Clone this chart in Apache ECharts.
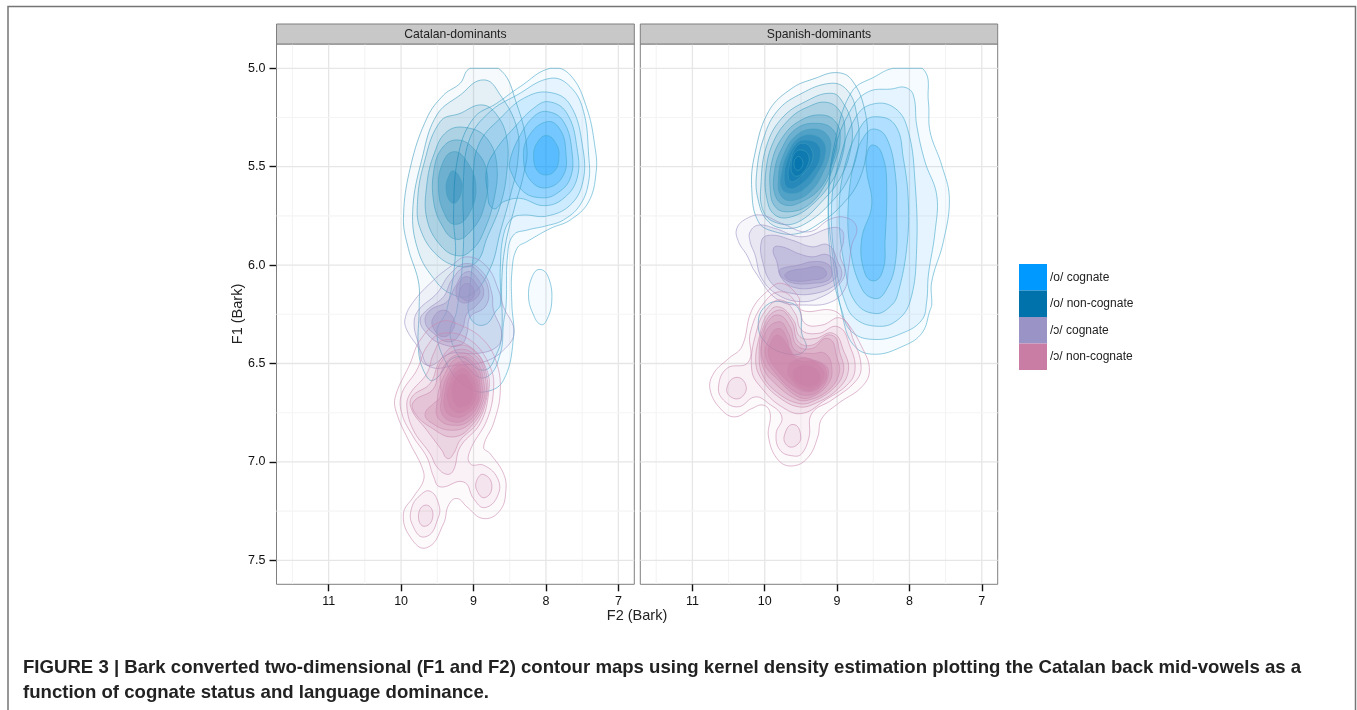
<!DOCTYPE html>
<html><head><meta charset="utf-8">
<script src="https://cdn.jsdelivr.net/npm/echarts@6/dist/echarts.min.js"></script>
<style>html,body{margin:0;padding:0;background:#fff}#c{width:1357px;height:710px}</style>
</head><body><div id="c"></div>
<script>
const panelNames=['Catalan-dominants','Spanish-dominants'];
const groupNames=['/o/ cognate','/o/ non-cognate','/ɔ/ cognate','/ɔ/ non-cognate'];
const xMajor=[7,8,9,10,11];
const xMinor=[7.5,8.5,9.5,10.5,11.5];
const yMajor=[5,5.5,6,6.5,7,7.5];
const yMinor=[5.25,5.75,6.25,6.75,7.25];

// each ring: [density level, [[F2,F1],...]]
const catOCog=[
[1,[[7.94,5],[7.665,5.034],[7.435,5.203],[7.32,5.407],[7.306,5.525],[7.41,5.678],[7.665,5.771],[7.94,5.814],[8.263,5.881],[8.4,5.915],[8.47,6.034],[8.47,6.203],[8.447,6.364],[8.586,6.585],[8.84,6.644],[9.09,6.619],[9.32,6.534],[9.506,6.347],[9.37,6.229],[9.25,5.949],[9.276,5.746],[9.21,5.441],[9,5.254],[8.68,5.178],[8.355,5.093]]],
[1,[[8.08,6.022],[7.96,6.068],[7.92,6.186],[7.99,6.28],[8.07,6.302],[8.17,6.254],[8.24,6.161],[8.19,6.059]]],
[2,[[7.94,5.051],[7.665,5.093],[7.48,5.22],[7.41,5.441],[7.41,5.576],[7.53,5.695],[7.76,5.771],[7.99,5.8],[8.26,5.822],[8.45,5.848],[8.53,5.949],[8.55,6.203],[8.586,6.297],[8.63,6.449],[8.816,6.568],[9.046,6.534],[9.32,6.364],[9.23,6.229],[9.14,5.915],[9.14,5.576],[9.05,5.356],[8.77,5.22],[8.4,5.136]]],
[3,[[7.96,5.122],[7.665,5.186],[7.49,5.407],[7.49,5.576],[7.665,5.695],[7.99,5.751],[8.31,5.746],[8.47,5.763],[8.586,5.848],[8.63,6.017],[8.63,6.203],[8.68,6.229],[8.86,6.305],[9.05,6.263],[9.05,6.127],[9,5.915],[9,5.525],[8.91,5.373],[8.63,5.254],[8.31,5.153]]],
[4,[[7.96,5.17],[7.71,5.229],[7.57,5.407],[7.57,5.559],[7.757,5.661],[8.03,5.698],[8.355,5.661],[8.586,5.678],[8.733,5.712],[8.807,5.627],[8.816,5.508],[8.678,5.407],[8.447,5.305],[8.17,5.203]]],
[5,[[7.98,5.22],[7.757,5.271],[7.64,5.424],[7.665,5.559],[7.85,5.636],[8.056,5.658],[8.31,5.627],[8.484,5.525],[8.5,5.475],[8.378,5.356],[8.17,5.246]]],
[6,[[7.98,5.271],[7.8,5.314],[7.725,5.424],[7.757,5.542],[7.987,5.607],[8.217,5.568],[8.31,5.458],[8.24,5.347]]],
[7,[[7.987,5.342],[7.85,5.39],[7.82,5.449],[7.87,5.517],[8,5.542],[8.125,5.517],[8.17,5.449],[8.125,5.381]]]
];
const catONon=[
[1,[[9.046,5],[8.655,5],[8.4,5.186],[8.263,5.407],[8.31,5.542],[8.424,5.695],[8.56,5.898],[8.61,6.085],[8.61,6.347],[8.678,6.449],[8.86,6.534],[9.23,6.466],[9.55,6.585],[9.67,6.551],[9.76,6.432],[9.75,6.212],[9.76,6.085],[9.9,5.915],[9.967,5.763],[9.875,5.508],[9.645,5.254],[9.414,5.136],[9.184,5.076]]],
[2,[[8.86,5.059],[8.63,5.136],[8.4,5.305],[8.39,5.475],[8.49,5.644],[8.63,5.831],[8.77,6.017],[9.046,6.153],[9.32,6.144],[9.55,6.068],[9.76,5.932],[9.84,5.729],[9.71,5.458],[9.506,5.237],[9.184,5.136]]],
[3,[[8.885,5.186],[8.678,5.237],[8.54,5.356],[8.54,5.525],[8.63,5.695],[8.816,5.864],[8.954,5.983],[9.184,6.008],[9.506,5.949],[9.737,5.814],[9.773,5.678],[9.69,5.492],[9.46,5.271],[9.184,5.229]]],
[4,[[9.09,5.302],[8.816,5.356],[8.678,5.492],[8.724,5.678],[8.86,5.831],[9,5.915],[9.207,5.953],[9.46,5.898],[9.645,5.763],[9.645,5.593],[9.55,5.441],[9.368,5.322]]],
[5,[[9.23,5.364],[9,5.407],[8.816,5.525],[8.86,5.712],[9.046,5.831],[9.25,5.868],[9.437,5.797],[9.55,5.678],[9.55,5.525],[9.437,5.407]]],
[6,[[9.276,5.424],[9.09,5.475],[8.968,5.593],[9.046,5.729],[9.253,5.793],[9.414,5.729],[9.483,5.61],[9.437,5.492]]],
[7,[[9.276,5.522],[9.175,5.568],[9.16,5.61],[9.23,5.678],[9.32,5.678],[9.378,5.61],[9.345,5.551]]]
];
const catACog=[
[1,[[9.09,5.958],[8.816,6.008],[8.655,6.127],[8.586,6.212],[8.44,6.339],[8.586,6.432],[8.86,6.492],[9.23,6.508],[9.6,6.517],[9.737,6.432],[9.92,6.33],[9.944,6.271],[9.83,6.186],[9.55,6.076],[9.32,6.008]]],
[2,[[9.09,5.992],[8.86,6.043],[8.747,6.144],[8.724,6.229],[8.61,6.347],[8.678,6.415],[8.954,6.449],[9.32,6.449],[9.645,6.508],[9.76,6.398],[9.82,6.297],[9.76,6.229],[9.506,6.144],[9.32,6.043]]],
[3,[[9.09,6.005],[8.908,6.043],[8.793,6.127],[8.84,6.212],[9.046,6.263],[9.09,6.347],[9.184,6.407],[9.46,6.398],[9.645,6.347],[9.737,6.28],[9.645,6.229],[9.414,6.161],[9.3,6.076]]],
[4,[[9.09,6.034],[8.93,6.076],[8.86,6.144],[8.954,6.203],[9.09,6.246],[9.16,6.33],[9.32,6.39],[9.55,6.347],[9.667,6.288],[9.6,6.229],[9.368,6.186],[9.253,6.11]]],
[5,[[9.09,6.059],[8.954,6.102],[8.917,6.144],[9.046,6.186],[9.184,6.186],[9.24,6.144],[9.207,6.093]]],
[5,[[9.414,6.229],[9.276,6.271],[9.276,6.322],[9.414,6.364],[9.55,6.322],[9.56,6.271]]],
[6,[[9.09,6.093],[8.99,6.136],[9.046,6.178],[9.16,6.169],[9.193,6.136]]]
];
const catANon=[
[1,[[9.46,6.288],[9.184,6.305],[8.86,6.381],[8.678,6.5],[8.632,6.653],[8.724,6.805],[8.86,6.924],[8.77,6.958],[8.586,7.059],[8.553,7.144],[8.632,7.246],[8.86,7.288],[9.09,7.229],[9.23,7.186],[9.345,7.22],[9.414,7.314],[9.645,7.436],[9.875,7.381],[9.967,7.263],[9.83,7.178],[9.69,7.093],[9.714,7.025],[9.875,6.907],[10.06,6.754],[10.08,6.67],[9.875,6.5],[9.737,6.381]]],
[2,[[9.437,6.347],[9.046,6.381],[8.77,6.517],[8.724,6.636],[8.816,6.788],[9.046,6.941],[9.046,7.009],[8.86,7.017],[8.678,7.076],[8.655,7.161],[8.84,7.232],[9,7.186],[9.138,7.102],[9.46,7.127],[9.55,7.076],[9.645,6.975],[9.83,6.873],[9.99,6.754],[9.99,6.653],[9.783,6.534],[9.645,6.415]]],
[2,[[9.6,7.149],[9.483,7.212],[9.483,7.28],[9.667,7.381],[9.85,7.314],[9.85,7.229],[9.737,7.17]]],
[3,[[9.414,6.381],[9.046,6.415],[8.816,6.534],[8.793,6.653],[8.908,6.805],[9.184,6.924],[9.276,7.042],[9.368,7.063],[9.506,7.025],[9.6,6.958],[9.83,6.839],[9.92,6.72],[9.875,6.653],[9.645,6.551],[9.55,6.449]]],
[3,[[8.86,7.064],[8.747,7.119],[8.84,7.181],[8.954,7.144],[8.954,7.093]]],
[3,[[9.667,7.22],[9.56,7.266],[9.667,7.327],[9.76,7.28]]],
[4,[[9.23,6.407],[8.954,6.449],[8.816,6.568],[8.825,6.686],[8.954,6.805],[9.184,6.89],[9.276,6.958],[9.355,6.983],[9.437,6.941],[9.645,6.839],[9.85,6.737],[9.85,6.67],[9.6,6.602],[9.46,6.483]]],
[5,[[9.207,6.429],[8.954,6.466],[8.84,6.568],[8.84,6.686],[9,6.805],[9.276,6.873],[9.6,6.822],[9.806,6.754],[9.83,6.695],[9.55,6.627],[9.46,6.5]]],
[6,[[9.184,6.449],[8.954,6.492],[8.86,6.593],[8.86,6.686],[9.046,6.805],[9.32,6.839],[9.6,6.797],[9.667,6.754],[9.55,6.703],[9.46,6.67],[9.437,6.534]]],
[7,[[9.184,6.466],[8.954,6.517],[8.885,6.602],[8.885,6.686],[9.046,6.788],[9.276,6.814],[9.483,6.78],[9.506,6.703],[9.414,6.568]]],
[8,[[9.184,6.492],[8.977,6.534],[8.908,6.619],[8.93,6.703],[9.09,6.78],[9.276,6.797],[9.437,6.754],[9.437,6.67],[9.368,6.568]]],
[9,[[9.175,6.508],[9,6.551],[8.93,6.627],[8.954,6.703],[9.115,6.763],[9.267,6.771],[9.39,6.737],[9.39,6.636],[9.32,6.559]]],
[10,[[9.17,6.525],[9.023,6.568],[8.963,6.636],[9,6.703],[9.138,6.746],[9.253,6.746],[9.345,6.703],[9.345,6.619]]],
[11,[[9.16,6.551],[9.046,6.585],[9,6.644],[9.046,6.703],[9.16,6.724],[9.253,6.712],[9.3,6.653],[9.276,6.593]]]
];
const spaOCog=[
[1,[[8.222,5],[7.821,5],[7.738,5.17],[7.715,5.322],[7.554,5.492],[7.448,5.661],[7.531,5.881],[7.692,6.085],[7.692,6.203],[7.715,6.229],[7.831,6.347],[8.107,6.415],[8.475,6.453],[8.751,6.415],[8.913,6.28],[9.074,5.915],[9.12,5.644],[9.028,5.373],[8.797,5.119],[8.475,5.042]]],
[2,[[8.061,5.097],[7.946,5.136],[7.9,5.288],[7.785,5.475],[7.623,5.644],[7.646,5.831],[7.738,6.051],[7.762,6.186],[7.831,6.28],[8.107,6.347],[8.475,6.378],[8.797,6.339],[8.936,6.229],[9.074,6.017],[9.12,5.678],[9.028,5.407],[8.797,5.203],[8.567,5.119],[8.245,5.105]]],
[3,[[8.521,5.183],[8.199,5.203],[8.015,5.322],[7.923,5.576],[7.9,5.915],[7.992,6.186],[8.199,6.288],[8.475,6.31],[8.751,6.271],[8.89,6.186],[9.028,5.983],[9.074,5.678],[8.959,5.458],[8.751,5.254]]],
[4,[[8.475,5.246],[8.199,5.288],[8.084,5.458],[8.015,5.678],[8.038,5.915],[8.153,6.136],[8.245,6.203],[8.475,6.246],[8.751,6.186],[8.89,6.017],[8.972,5.746],[8.89,5.492],[8.659,5.288]]],
[5,[[8.475,5.309],[8.314,5.356],[8.199,5.525],[8.176,5.746],[8.199,6],[8.337,6.136],[8.475,6.17],[8.659,6.119],[8.82,5.915],[8.843,5.678],[8.751,5.458],[8.613,5.339]]],
[6,[[8.498,5.39],[8.36,5.458],[8.314,5.61],[8.337,5.881],[8.36,6.017],[8.498,6.08],[8.636,6.017],[8.659,5.864],[8.521,5.695],[8.59,5.525],[8.59,5.441]]]
];
const spaONon=[
[1,[[9.005,5.022],[8.797,5.059],[8.613,5.22],[8.59,5.407],[8.705,5.576],[8.936,5.695],[9.212,5.78],[9.534,5.839],[9.856,5.831],[10.087,5.78],[10.18,5.61],[10.14,5.441],[9.948,5.22],[9.626,5.102],[9.304,5.051]]],
[1,[[9.764,6.186],[9.534,6.22],[9.488,6.347],[9.442,6.432],[9.718,6.449],[10.017,6.381],[10.087,6.28],[9.971,6.203]]],
[2,[[9.074,5.076],[8.843,5.119],[8.728,5.237],[8.705,5.39],[8.843,5.559],[9.074,5.678],[9.396,5.78],[9.672,5.814],[9.948,5.78],[10.096,5.661],[10.11,5.525],[10.017,5.356],[9.833,5.22],[9.534,5.136]]],
[3,[[9.074,5.127],[8.913,5.178],[8.797,5.288],[8.82,5.424],[8.959,5.559],[9.212,5.678],[9.534,5.78],[9.81,5.788],[10.017,5.729],[10.05,5.576],[9.971,5.39],[9.764,5.254],[9.442,5.17]]],
[4,[[9.143,5.173],[8.959,5.22],[8.89,5.322],[8.936,5.458],[9.074,5.576],[9.35,5.695],[9.626,5.754],[9.856,5.746],[9.971,5.661],[9.985,5.525],[9.879,5.373],[9.649,5.254],[9.396,5.195]]],
[5,[[9.212,5.237],[9.005,5.28],[8.959,5.373],[9.028,5.475],[9.166,5.593],[9.396,5.695],[9.672,5.729],[9.856,5.703],[9.925,5.61],[9.902,5.475],[9.764,5.356],[9.534,5.271]]],
[6,[[9.258,5.28],[9.051,5.314],[9.005,5.39],[9.074,5.492],[9.235,5.61],[9.488,5.678],[9.718,5.695],[9.856,5.644],[9.866,5.525],[9.764,5.407],[9.557,5.305]]],
[7,[[9.304,5.309],[9.12,5.347],[9.097,5.424],[9.189,5.525],[9.35,5.619],[9.58,5.669],[9.764,5.653],[9.81,5.559],[9.741,5.441],[9.557,5.339]]],
[8,[[9.35,5.339],[9.189,5.373],[9.166,5.441],[9.258,5.525],[9.442,5.61],[9.626,5.636],[9.764,5.61],[9.764,5.525],[9.672,5.424],[9.534,5.356]]],
[9,[[9.419,5.364],[9.258,5.39],[9.235,5.458],[9.327,5.525],[9.511,5.593],[9.672,5.61],[9.732,5.559],[9.681,5.458],[9.557,5.381]]],
[10,[[9.465,5.381],[9.35,5.415],[9.35,5.475],[9.442,5.525],[9.603,5.576],[9.672,5.559],[9.649,5.475],[9.58,5.407]]],
[11,[[9.497,5.415],[9.396,5.441],[9.405,5.492],[9.511,5.542],[9.603,5.542],[9.635,5.492],[9.589,5.432]]],
[12,[[9.525,5.449],[9.474,5.475],[9.497,5.508],[9.557,5.517],[9.594,5.492],[9.58,5.461]]]
];
const spaACog=[
[1,[[10.386,5.814],[10.248,5.763],[10.041,5.746],[9.764,5.788],[9.396,5.831],[9.074,5.763],[8.843,5.763],[8.728,5.814],[8.797,5.898],[8.843,6.017],[8.89,6.119],[9.074,6.186],[9.396,6.203],[9.81,6.178],[10.133,6.034],[10.248,5.949],[10.363,5.881]]],
[2,[[10.202,5.831],[10.087,5.797],[9.856,5.814],[9.488,5.856],[9.074,5.81],[8.936,5.822],[8.913,5.881],[8.959,5.949],[8.89,6.034],[8.982,6.102],[9.212,6.161],[9.488,6.186],[9.81,6.153],[10.041,6.068],[10.133,5.949],[10.202,5.881]]],
[3,[[10.041,5.873],[9.902,5.848],[9.626,5.873],[9.35,5.907],[9.12,5.898],[8.991,5.983],[8.936,6.051],[9.028,6.102],[9.304,6.144],[9.626,6.144],[9.879,6.102],[10.017,6]]],
[4,[[9.879,5.915],[9.764,5.907],[9.534,5.941],[9.35,5.958],[9.12,5.949],[9.005,6.017],[9.028,6.068],[9.258,6.11],[9.58,6.115],[9.764,6.068],[9.833,5.983]]],
[5,[[9.764,6.017],[9.534,6],[9.35,5.983],[9.143,5.992],[9.074,6.034],[9.12,6.076],[9.35,6.093],[9.58,6.093],[9.741,6.068],[9.801,6.034]]],
[6,[[9.672,6.034],[9.442,6.017],[9.281,6.008],[9.166,6.025],[9.166,6.059],[9.35,6.076],[9.58,6.081],[9.718,6.059]]]
];
const spaANon=[
[1,[[9.764,6.093],[9.534,6.161],[9.488,6.229],[9.074,6.229],[8.89,6.28],[8.659,6.415],[8.553,6.534],[8.659,6.619],[8.982,6.703],[9.212,6.78],[9.267,6.873],[9.396,6.975],[9.603,7.02],[9.81,6.992],[9.948,6.873],[9.925,6.754],[10.017,6.712],[10.179,6.729],[10.409,6.771],[10.593,6.737],[10.754,6.636],[10.708,6.551],[10.501,6.475],[10.317,6.415],[10.179,6.229],[9.948,6.127]]],
[2,[[9.764,6.136],[9.534,6.212],[9.442,6.297],[9.212,6.305],[8.936,6.271],[8.774,6.381],[8.668,6.517],[8.751,6.593],[9.074,6.686],[9.35,6.754],[9.387,6.873],[9.488,6.958],[9.603,6.97],[9.787,6.941],[9.843,6.856],[9.764,6.771],[9.948,6.703],[10.133,6.67],[10.363,6.72],[10.57,6.686],[10.639,6.619],[10.524,6.525],[10.225,6.492],[10.202,6.347],[10.017,6.195]]],
[3,[[9.764,6.178],[9.58,6.246],[9.488,6.331],[9.258,6.347],[8.982,6.314],[8.82,6.415],[8.751,6.525],[8.843,6.602],[9.166,6.686],[9.488,6.754],[9.764,6.72],[10.017,6.636],[10.179,6.534],[10.11,6.331],[9.948,6.212]]],
[3,[[10.4,6.571],[10.261,6.61],[10.317,6.67],[10.455,6.673],[10.524,6.627]]],
[3,[[9.603,6.81],[9.502,6.873],[9.58,6.92],[9.695,6.915],[9.727,6.864]]],
[4,[[9.81,6.212],[9.603,6.28],[9.511,6.364],[9.304,6.373],[9.051,6.347],[8.913,6.432],[8.843,6.534],[8.982,6.627],[9.304,6.703],[9.534,6.72],[9.81,6.67],[10.017,6.593],[10.123,6.5],[10.064,6.347],[9.971,6.254]]],
[5,[[9.81,6.229],[9.626,6.288],[9.534,6.39],[9.35,6.407],[9.074,6.356],[8.959,6.449],[8.913,6.542],[9.051,6.627],[9.35,6.695],[9.534,6.703],[9.81,6.653],[10.017,6.568],[10.077,6.466],[10.017,6.314]]],
[6,[[9.81,6.254],[9.649,6.314],[9.557,6.407],[9.35,6.424],[9.12,6.373],[9.005,6.466],[8.972,6.551],[9.12,6.636],[9.396,6.686],[9.58,6.678],[9.856,6.602],[10.017,6.525],[10.05,6.415],[9.971,6.297]]],
[7,[[9.81,6.288],[9.672,6.347],[9.58,6.432],[9.35,6.449],[9.166,6.449],[9.074,6.517],[9.12,6.602],[9.35,6.67],[9.534,6.67],[9.81,6.585],[10.017,6.492],[10.017,6.364]]],
[8,[[9.81,6.322],[9.695,6.373],[9.626,6.449],[9.396,6.475],[9.166,6.508],[9.12,6.551],[9.212,6.627],[9.396,6.661],[9.58,6.644],[9.81,6.568],[9.985,6.466],[9.948,6.381]]],
[9,[[9.81,6.356],[9.672,6.415],[9.534,6.483],[9.258,6.492],[9.143,6.551],[9.235,6.619],[9.396,6.644],[9.58,6.619],[9.81,6.542],[9.948,6.458],[9.902,6.381]]],
[10,[[9.626,6.492],[9.396,6.475],[9.212,6.525],[9.189,6.576],[9.304,6.627],[9.442,6.636],[9.626,6.585],[9.681,6.534]]],
[11,[[9.58,6.525],[9.396,6.508],[9.258,6.542],[9.235,6.585],[9.35,6.619],[9.488,6.61],[9.603,6.576]]]
];

const fillColors=['#0099ff','#0072ab','#9a94c6','#c97ca4'];
const lineColors=['#45aacb','#3f9dbf','#9a8fc2','#c98aae'];
const levelAlpha=[0.034,0.036,0.08,0.036];
const FONT='"Liberation Sans",Arial,sans-serif';
const xRange=[6.78,11.72], yRange=[4.8765,7.622];
const panelGrids=[{left:276.5,top:44,width:357.8,height:540.3},{left:640.3,top:44,width:357.4,height:540.3}];

// closed smooth outline through the read contour points (drawing only)
function outline(P,topY){
  const n=P.length,out=[];
  const tan=(a,b,len)=>{const dx=b[0]-a[0],dy=b[1]-a[1],d=Math.hypot(dx,dy)||1;return [dx/d*len*0.39,dy/d*len*0.39];};
  for(let i=0;i<n;i++){
    const p0=P[(i-1+n)%n],p1=P[i],p2=P[(i+1)%n],p3=P[(i+2)%n];
    const len=Math.hypot(p2[0]-p1[0],p2[1]-p1[1]);
    const t1=tan(p0,p2,len),t2=tan(p1,p3,len);
    const c1=[p1[0]+t1[0],p1[1]+t1[1]],c2=[p2[0]-t2[0],p2[1]-t2[1]];
    for(let k=0;k<10;k++){
      const t=k/10,u=1-t;
      const x=u*u*u*p1[0]+3*u*u*t*c1[0]+3*u*t*t*c2[0]+t*t*t*p2[0];
      const y=u*u*u*p1[1]+3*u*u*t*c1[1]+3*u*t*t*c2[1]+t*t*t*p2[1];
      out.push([x,Math.max(y,topY)]);
    }
  }
  return out;
}
function gridSeries(idx){
  const items=[...xMajor.map(v=>[v,0,1]),...xMinor.map(v=>[v,0,0]),...yMajor.map(v=>[0,v,1]),...yMinor.map(v=>[0,v,0])];
  return {type:'custom',silent:true,xAxisIndex:idx,yAxisIndex:idx,z:1,data:items,encode:{x:0,y:1},clip:true,
    renderItem(p,api){
      const it=items[p.dataIndex];
      const a=it[0]?api.coord([it[0],yRange[0]]):api.coord([xRange[0],it[1]]);
      const b=it[0]?api.coord([it[0],yRange[1]]):api.coord([xRange[1],it[1]]);
      return {type:'line',shape:{x1:a[0],y1:a[1],x2:b[0],y2:b[1]},
        style:{stroke:it[2]?'#e6e6e6':'#f4f4f4',lineWidth:it[2]?1.3:1.1}};
    }};
}
function ringSeries(g,idx,rings){
  return {type:'custom',name:groupNames[g],silent:true,xAxisIndex:idx,yAxisIndex:idx,z:2+g,
    itemStyle:{color:fillColors[g]},clip:true,
    data:rings.map(r=>r[1][0]),encode:{x:0,y:1},
    renderItem(p,api){
      const r=rings[p.dataIndex];
      const topY=api.coord([8,5])[1];
      return {type:'polygon',shape:{points:outline(r[1].map(q=>api.coord(q)),topY)},
        style:{fill:fillColors[g],fillOpacity:Math.min(0.9,r[0]*levelAlpha[g]),stroke:lineColors[g],lineWidth:0.8,strokeOpacity:0.75}};
    }};
}
function xAxis(i){return {type:'value',gridIndex:i,inverse:true,min:xRange[0],max:xRange[1],
  axisLine:{show:false},splitLine:{show:false},
  axisTick:{show:true,length:7,lineStyle:{color:'#111',width:1.4},customValues:xMajor},
  axisLabel:{color:'#111',fontSize:12.5,fontFamily:FONT,margin:10.5,customValues:xMajor,formatter:v=>String(v)}};}
function yAxis(i){return {type:'value',gridIndex:i,inverse:true,min:yRange[0],max:yRange[1],
  axisLine:{show:false},splitLine:{show:false},
  axisTick:{show:i===0,length:7,lineStyle:{color:'#111',width:1.4},customValues:yMajor},
  axisLabel:{show:i===0,color:'#111',fontSize:12.5,fontFamily:FONT,margin:11,customValues:yMajor,formatter:v=>v.toFixed(1)}};}
function strip(i){const g=panelGrids[i];
  return {type:'rect',shape:{x:g.left,y:24,width:g.width,height:20},style:{fill:'#c8c8c8',stroke:'#7f7f7f',lineWidth:1},z:5};}
function stripText(i){const g=panelGrids[i];
  return {type:'text',x:g.left+g.width/2,y:34.5,z:6,style:{text:panelNames[i],font:'12.2px '+FONT,fill:'#222',align:'center',verticalAlign:'middle'}};}
const chart=echarts.init(document.getElementById('c'),null,{renderer:'canvas'});
chart.setOption({
  animation:false,backgroundColor:'#fff',textStyle:{fontFamily:FONT},
  color:fillColors,
  grid:panelGrids.map(g=>({...g,show:true,backgroundColor:'#fff',borderColor:'#7f7f7f',borderWidth:1,containLabel:false})),
  xAxis:[xAxis(0),xAxis(1)],yAxis:[yAxis(0),yAxis(1)],
  legend:{left:1019,top:264,orient:'vertical',padding:0,itemGap:0,itemWidth:28,itemHeight:26.5,selectedMode:false,icon:'rect',
    data:groupNames,textStyle:{fontSize:12,color:'#222',fontFamily:FONT,padding:[5,0,0,-2]}},
  series:[gridSeries(0),gridSeries(1),
    ringSeries(0,0,catOCog),ringSeries(1,0,catONon),ringSeries(2,0,catACog),ringSeries(3,0,catANon),
    ringSeries(0,1,spaOCog),ringSeries(1,1,spaONon),ringSeries(2,1,spaACog),ringSeries(3,1,spaANon)],
  graphic:[
    strip(0),strip(1),stripText(0),stripText(1),
    {type:'polyline',shape:{points:[[8,710],[8,6.5],[1355.5,6.5],[1355.5,710]]},style:{stroke:'#757575',lineWidth:1.5,fill:null}},
    {type:'text',x:637,y:616,style:{text:'F2 (Bark)',font:'14.5px '+FONT,fill:'#222',align:'center',verticalAlign:'middle'}},
    {type:'text',x:238,y:314,rotation:Math.PI/2,style:{text:'F1 (Bark)',font:'14.5px '+FONT,fill:'#222',align:'center',verticalAlign:'middle'}},
    {type:'text',x:23,y:668,style:{text:'FIGURE 3 | Bark converted two-dimensional (F1 and F2) contour maps using kernel density estimation plotting the Catalan back mid-vowels as a',font:'bold 18.6px '+FONT,fill:'#222',verticalAlign:'middle'}},
    {type:'text',x:23,y:692.5,style:{text:'function of cognate status and language dominance.',font:'bold 18.6px '+FONT,fill:'#222',verticalAlign:'middle'}}
  ]
});
</script></body></html>
